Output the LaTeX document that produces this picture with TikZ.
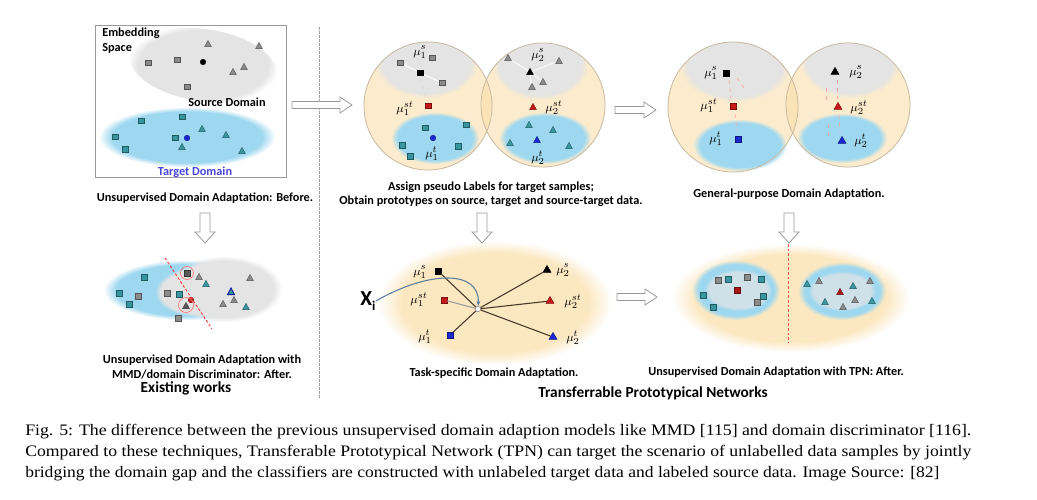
\documentclass[tikz,border=0pt]{standalone}
\usepackage{fontspec}
\usepackage{graphicx}
\newfontfamily\carl{Carlito}
\newfontfamily\capfont{Liberation Serif}
\usetikzlibrary{fadings,arrows.meta,shapes.geometric}
\definecolor{tealM}{RGB}{56,150,160}
\definecolor{grayM}{RGB}{140,140,140}
\definecolor{blueM}{RGB}{25,40,210}
\definecolor{redM}{RGB}{200,25,25}
\definecolor{blueA}{RGB}{158,216,240}
\definecolor{grayA}{RGB}{228,228,228}
\definecolor{orangeA}{RGB}{250,222,165}
\definecolor{orangeB}{RGB}{252,232,192}
\definecolor{circE}{RGB}{200,185,160}
\definecolor{tdom}{RGB}{70,70,220}
\definecolor{linkC}{RGB}{70,55,40}
\definecolor{xiC}{RGB}{90,125,160}
\newcommand\mkSq[3]{\filldraw[fill=#3, draw=#3!60!black, line width=0.3pt] (#1-2.7,#2-2.7) rectangle (#1+2.7,#2+2.7);}
\newcommand\mkTr[3]{\filldraw[fill=#3, draw=#3!60!black, line width=0.3pt] (#1,#2-3.6) -- (#1+3.4,#2+2.6) -- (#1-3.4,#2+2.6) -- cycle;}
\newcommand\mkDt[3]{\filldraw[fill=#3, draw=#3!60!black, line width=0.3pt] (#1,#2) circle [radius=2.8];}
\newcommand\hollowR[3]{\draw[harrow] (#1,#2-3.5) -- (#3-12,#2-3.5) -- (#3-12,#2-8) -- (#3,#2) -- (#3-12,#2+8) -- (#3-12,#2+3.5) -- (#1,#2+3.5) -- cycle;}
\newcommand\hollowD[3]{\draw[harrow] (#1-5,#2) -- (#1-5,#3-11) -- (#1-10,#3-11) -- (#1,#3) -- (#1+10,#3-11) -- (#1+5,#3-11) -- (#1+5,#2) -- cycle;}
\begin{document}
\begin{tikzpicture}[x=0.75pt,y=-0.75pt,
  harrow/.style={draw=gray!80, fill=white, line width=0.6pt},
  lab/.style={font=\carl\bfseries\fontsize{9.2}{10.8}\selectfont, inner sep=0},
  biglab/.style={font=\carl\bfseries\fontsize{11.5}{13}\selectfont, inner sep=0},
  mu/.style={font=\fontsize{9.5}{10}\selectfont, inner sep=0},
  capline/.style={font=\capfont\fontsize{12}{13}\selectfont, inner sep=0, anchor=base west},
  sqn/.style={rectangle, draw=#1!60!black, fill=#1, minimum size=4.2pt, inner sep=0, line width=0.3pt},
  trn/.style={regular polygon, regular polygon sides=3, draw=#1!60!black, fill=#1, minimum size=7pt, inner sep=0, line width=0.3pt},
  link/.style={linkC, line width=0.8pt},
  circ/.style={fill=orangeA, fill opacity=0.55, draw=none},
  circB/.style={draw=circE, line width=0.6pt},
  fuzzy/.style={path fading=circle with fuzzy edge 15 percent},
  fuzzyB/.style={path fading=circle with fuzzy edge 20 percent}]
\path[use as bounding box, fill=white] (0,0) rectangle (1037,499);

% ---------- left: before ----------
\node[draw=gray!80, line width=0.6pt, minimum width=143.25pt, minimum height=114pt, inner sep=0] (box) at (190.5,101) {};
\fill[grayA, fuzzy, rotate around={-8:(203,65)}] (203,65) ellipse [x radius=74, y radius=36];
\fill[blueA, fuzzy] (187,137) ellipse [x radius=88, y radius=30];
\node[lab, align=left, anchor=north west] (emb) at (102,28) {Embedding\\Space};
\node[lab] (src) at (227,102) {Source Domain};
\node[lab, text=tdom] (tgt) at (195,172) {Target Domain};
\foreach \x/\y in {148/63,177/60,187/87} {\mkSq{\x}{\y}{grayM}}
\mkDt{203}{62}{black}
\foreach \x/\y in {208/44,259/46,233/72,244/67} {\mkTr{\x}{\y}{grayM}}
\foreach \x/\y in {141/121,182/117,115/137,125/149,175/138} {\mkSq{\x}{\y}{tealM}}
\mkDt{187}{138}{blueM}
\foreach \x/\y in {202/129,226/135,182/147,242/151} {\mkTr{\x}{\y}{tealM}}
\node[lab] (cbefore) at (205,198) {Unsupervised Domain Adaptation: Before.};
\hollowD{205}{213}{243}

% ---------- left: after ----------
\fill[blueA, fuzzy] (186,290) ellipse [x radius=82, y radius=30];
\fill[grayA, fuzzy] (224,289) ellipse [x radius=58, y radius=33];
\fill[grayA, fuzzy] (195,292) ellipse [x radius=40, y radius=24];
\foreach \x/\y in {144/277,119/293,129/304,179/294} {\mkSq{\x}{\y}{tealM}}
\foreach \x/\y in {138/296,167/293,178/318} {\mkSq{\x}{\y}{grayM}}
\mkSq{187}{273}{gray!70!black}
\foreach \x/\y in {199/277,223/304,234/300,250/278} {\mkTr{\x}{\y}{grayM}}
\mkTr{186}{306}{gray!70!black}
\foreach \x/\y in {206/284,246/307} {\mkTr{\x}{\y}{tealM}}
\filldraw[fill=tealM, draw=blueM!70!black, line width=0.7pt] (231,288) -- (234.5,294.6) -- (227.5,294.6) -- cycle;
\mkDt{191}{300}{redM}
\draw[red!55, line width=0.5pt] (187,273) circle [radius=6.5];
\draw[red!55, line width=0.5pt] (186,305) circle [radius=7.5];
\coordinate (sepA) at (165,258);
\coordinate (sepB) at (212,329);
\draw[red!75, dashed, dash pattern=on 2pt off 1.5pt, line width=0.7pt] (sepA) -- (sepB);
\node[lab, align=center] (cafter) at (202,367) {Unsupervised Domain Adaptation with\\MMD/domain Discriminator: After.};
\node[biglab] (exist) at (186,388) {Existing works};

% separator
\coordinate (vtop) at (319,27);
\coordinate (vbot) at (319,398);
\draw[gray!75, dash pattern=on 2pt off 1pt, line width=0.6pt] (vtop) -- (vbot);
\hollowR{292}{105}{352}

% ---------- middle top: two circles ----------
\fill[circ] (428,106) circle [radius=64];
\fill[circ] (543,105) circle [radius=62];
\begin{scope}
\clip (428,106) circle [radius=64];
\fill[grayA, fuzzy] (426,62) ellipse [x radius=52, y radius=36];
\end{scope}
\begin{scope}
\clip (543,105) circle [radius=62];
\fill[grayA, fuzzy] (540,64) ellipse [x radius=48, y radius=36];
\end{scope}
\fill[blueA, fuzzy] (435,138) ellipse [x radius=44, y radius=26];
\fill[blueA, fuzzy] (545,138) ellipse [x radius=46, y radius=26];
\draw[circB] (428,106) circle [radius=64];
\draw[circB] (543,105) circle [radius=62];
\draw[white, line width=0.8pt] (400,63) -- (442,83);
\draw[white, line width=0.6pt] (508,58) -- (530,72) -- (559,61);
\draw[white, line width=0.6pt] (543,82) -- (530,72) -- (532,87);
\draw[white!70!gray, line width=0.5pt, dashed] (420,78) -- (427,101);
\draw[white!70!gray, line width=0.5pt, dashed] (528,90) -- (532,102);
\foreach \x/\y in {400/63,432/58,442/83} {\mkSq{\x}{\y}{grayM}}
\mkSq{420}{73}{black}
\mkSq{428}{106}{redM}
\foreach \x/\y in {425/128,466/125,402/145,410/156,458/146} {\mkSq{\x}{\y}{tealM}}
\mkDt{433}{138}{blueM}
\foreach \x/\y in {508/58,559/61,543/82,532/87} {\mkTr{\x}{\y}{grayM}}
\mkTr{530}{72}{black}
\mkTr{533}{107}{redM}
\foreach \x/\y in {529/125,553/130,510/143,569/146} {\mkTr{\x}{\y}{tealM}}
\mkTr{537}{140}{blueM}
\node[mu] (a1s) at (420,52) {$\mu_1^{s}$};
\node[mu] (a1st) at (405,109) {$\mu_1^{st}$};
\node[mu] (a1t) at (432,154) {$\mu_1^{t}$};
\node[mu] (a2s) at (538,55) {$\mu_2^{s}$};
\node[mu] (a2st) at (554,108) {$\mu_2^{st}$};
\node[mu] (a2t) at (538,158) {$\mu_2^{t}$};
\node[lab, align=center] (cassign) at (491,194) {Assign pseudo Labels for target samples;\\Obtain prototypes on source, target and source-target data.};
\hollowR{615}{110}{656}
\hollowD{482}{213}{243}

% ---------- right top: two circles ----------
\fill[circ] (733,107) circle [radius=65];
\fill[circ] (848,105) circle [radius=62];
\begin{scope}
\clip (733,107) circle [radius=65];
\fill[grayA, fuzzy] (735,66) ellipse [x radius=55, y radius=36];
\end{scope}
\begin{scope}
\clip (848,105) circle [radius=62];
\fill[grayA, fuzzy] (850,62) ellipse [x radius=50, y radius=36];
\end{scope}
\fill[blueA, fuzzy] (740,145) ellipse [x radius=47, y radius=26];
\fill[blueA, fuzzy] (842,138) ellipse [x radius=45, y radius=25];
\draw[circB] (733,107) circle [radius=65];
\draw[circB] (848,105) circle [radius=62];
\draw[red!35, dashed, line width=0.5pt] (729,80) -- (731,99);
\draw[red!35, dashed, line width=0.5pt] (737,78) -- (744,88);
\draw[red!35, dashed, line width=0.5pt] (735,114) -- (737,131);
\draw[red!35, dashed, line width=0.5pt] (837,80) -- (837,99);
\draw[red!35, dashed, line width=0.5pt] (826,88) -- (826,101);
\draw[red!35, dashed, line width=0.5pt] (839,115) -- (840,132);
\draw[red!35, dashed, line width=0.5pt] (828,124) -- (828,136);
\node[sqn=black] (p1s) at (726,73) {};
\node[sqn=redM] (p1st) at (733,106) {};
\node[sqn=blueM] (p1t) at (738,139) {};
\node[trn=black] (p2s) at (835,72) {};
\node[trn=redM] (p2st) at (838,107) {};
\node[trn=blueM] (p2t) at (842,141) {};
\node[mu] (b1s) at (711,73) {$\mu_1^{s}$};
\node[mu] (b1st) at (709,106) {$\mu_1^{st}$};
\node[mu] (b1t) at (716,139) {$\mu_1^{t}$};
\node[mu] (b2s) at (856,72) {$\mu_2^{s}$};
\node[mu] (b2st) at (859,108) {$\mu_2^{st}$};
\node[mu] (b2t) at (861,141) {$\mu_2^{t}$};
\node[lab] (cgen) at (789,194) {General-purpose Domain Adaptation.};
\hollowD{789}{213}{243}

% ---------- middle bottom: task-specific ----------
\fill[orangeB, fuzzyB] (495,303) ellipse [x radius=116, y radius=62];
\node[sqn=black] (q1s) at (438,271) {};
\node[sqn=redM] (q1st) at (444,300) {};
\node[sqn=blueM] (q1t) at (450,335) {};
\node[trn=black] (q2s) at (547,270) {};
\node[trn=redM] (q2st) at (550,301) {};
\node[trn=blueM] (q2t) at (553,337) {};
\node[circle, draw=gray, fill=white, minimum size=4pt, inner sep=0] (c) at (478,309) {};
\draw[link] (c) -- (q1s);
\draw[link, gray!80] (c) -- (q1st);
\draw[link] (c) -- (q1t);
\draw[link] (c) -- (q2s);
\draw[link] (c) -- (q2st);
\draw[link] (c) -- (q2t);
\node[mu] (c1s) at (420,272) {$\mu_1^{s}$};
\node[mu] (c1st) at (419,300) {$\mu_1^{st}$};
\node[mu] (c1t) at (425,337) {$\mu_1^{t}$};
\node[mu] (c2s) at (563,270) {$\mu_2^{s}$};
\node[mu] (c2st) at (573,302) {$\mu_2^{st}$};
\node[mu] (c2t) at (573,338) {$\mu_2^{t}$};
\node[inner sep=0, font=\carl\bfseries\fontsize{16}{16}\selectfont] (xi) at (368,301) {X\raisebox{-0.45ex}{\fontsize{10}{10}\selectfont i}};
\draw[xiC, line width=0.8pt, -{Stealth[length=4pt,width=3pt]}] (xi.east) .. controls (430,270) and (480,270) .. (c);
\node[lab] (ctask) at (494,373) {Task-specific Domain Adaptation.};
\hollowR{617}{297}{657}

% ---------- right bottom: TPN after ----------
\fill[orangeB, fuzzyB] (791,298) ellipse [x radius=118, y radius=54];
\fill[blueA, fuzzy] (736,290) ellipse [x radius=44, y radius=30];
\fill[grayA!70!blueA, fuzzy] (738,290) ellipse [x radius=34, y radius=21];
\fill[blueA, fuzzy] (842,291) ellipse [x radius=44, y radius=29];
\fill[grayA!70!blueA, fuzzy] (842,291) ellipse [x radius=34, y radius=20];
\foreach \x/\y in {718/280,747/277,757/302} {\mkSq{\x}{\y}{grayM}}
\foreach \x/\y in {728/279,761/279,703/295,713/307,763/296} {\mkSq{\x}{\y}{tealM}}
\mkSq{737}{290}{redM!85!black}
\foreach \x/\y in {807/284,853/286,825/302,872/301} {\mkTr{\x}{\y}{tealM}}
\foreach \x/\y in {819/281,870/281,855/300,843/307} {\mkTr{\x}{\y}{grayM}}
\mkTr{840}{292}{redM!85!black}
\coordinate (vsA) at (788,244);
\coordinate (vsB) at (788,343);
\draw[red!70, dash pattern=on 2pt off 1.5pt, line width=0.7pt] (vsA) -- (vsB);
\node[lab] (ctpn) at (776,372) {Unsupervised Domain Adaptation with TPN: After.};
\node[biglab] (tpn) at (653,393) {Transferrable Prototypical Networks};

% ---------- caption ----------
\node[capline] (cap1) at (25,435) {\resizebox{709.5pt}{\height}{Fig. 5: The difference between the previous unsupervised domain adaption models like MMD [115] and domain discriminator [116].}};
\node[capline] (cap2) at (25,456) {\resizebox{709.5pt}{\height}{Compared to these techniques, Transferable Prototypical Network (TPN) can target the scenario of unlabelled data samples by jointly}};
\node[capline] (cap3) at (25,477) {\resizebox{685.5pt}{\height}{bridging the domain gap and the classifiers are constructed with unlabeled target data and labeled source data. Image Source: [82]}};
\end{tikzpicture}
\end{document}
